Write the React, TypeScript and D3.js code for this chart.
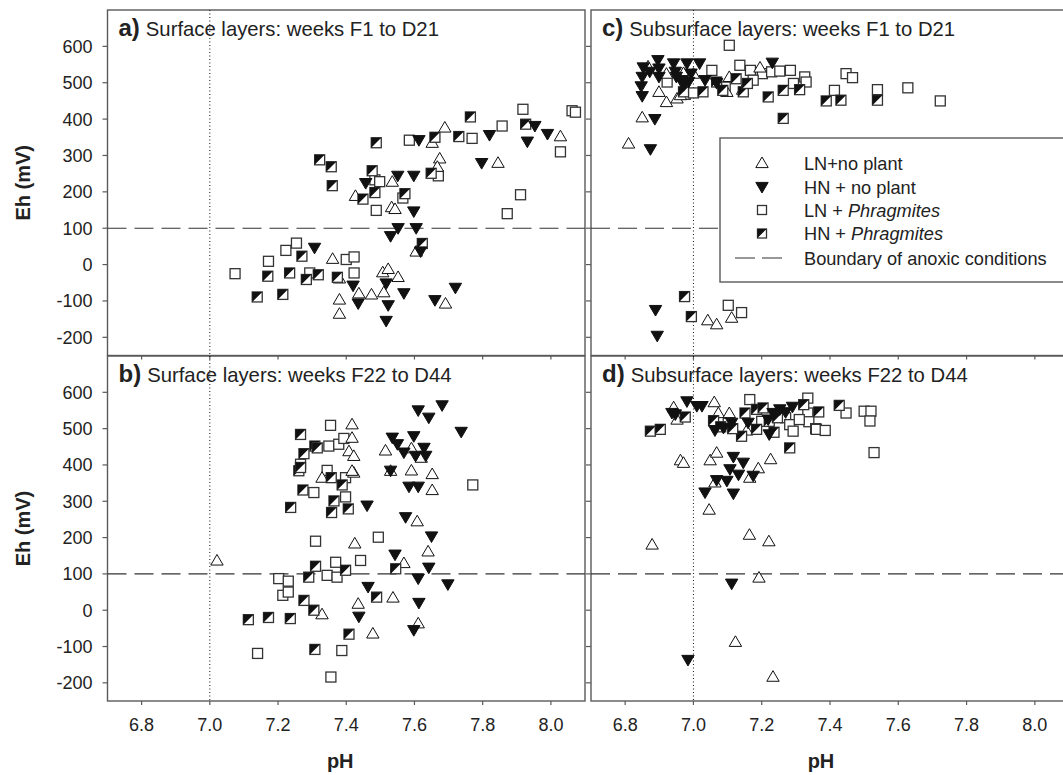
import React from "react";
import * as d3 from "d3";

// ---------- data: [pH, Eh (mV)] ----------
const xTicks = [6.8, 7.0, 7.2, 7.4, 7.6, 7.8, 8.0];
const yTicks = [-200, -100, 0, 100, 200, 300, 400, 500, 600];
const anoxicBoundary = 100;
const neutralPH = 7.0;

const aLNnoPlant = [[7.36,16],[7.38,-38],[7.38,-96],[7.38,-135],[7.437,-79],[7.474,-82],[7.507,-21],[7.523,-12],[7.552,-34],[7.51,-76],[7.691,-107],[7.605,36],[7.427,189],[7.535,228],[7.533,158],[7.543,153],[7.652,335],[7.689,377],[7.674,292],[7.667,269],[7.845,280],[8.028,353]];
const aHNnoPlant = [[7.307,46],[7.42,-58],[7.435,-107],[7.517,-52],[7.523,-112],[7.569,-79],[7.517,-155],[7.66,-98],[7.72,-64],[7.53,78],[7.552,100],[7.605,100],[7.618,36],[7.457,224],[7.551,244],[7.598,244],[7.598,146],[7.613,342],[7.82,356],[7.797,279],[7.953,381],[7.931,338],[7.99,359]];
const aLNPhrag = [[7.074,-25],[7.172,9],[7.223,39],[7.254,59],[7.293,-23],[7.40,14],[7.423,21],[7.423,-23],[7.484,233],[7.498,228],[7.67,244],[7.488,149],[7.566,183],[7.585,342],[7.769,347],[7.857,381],[7.911,192],[7.872,140],[7.918,427],[8.028,310],[8.062,423],[8.072,419]];
const aHNPhrag = [[7.17,-32],[7.27,23],[7.234,-23],[7.283,-41],[7.318,-28],[7.139,-89],[7.214,-82],[7.374,-35],[7.623,58],[7.322,288],[7.356,269],[7.359,217],[7.488,335],[7.476,258],[7.649,251],[7.449,180],[7.484,198],[7.572,195],[7.66,350],[7.764,406],[7.73,352],[7.926,386]];

const bLNnoPlant = [[7.021,137],[7.417,512],[7.417,475],[7.408,438],[7.422,425],[7.422,379],[7.329,365],[7.425,184],[7.515,440],[7.591,446],[7.53,384],[7.591,385],[7.652,375],[7.652,331],[7.608,245],[7.569,130],[7.64,162],[7.537,35],[7.435,18],[7.478,-64],[7.611,-36],[7.329,-11],[7.417,384],[7.62,420]];
const bHNnoPlant = [[7.461,288],[7.611,550],[7.681,564],[7.642,530],[7.737,491],[7.535,475],[7.55,457],[7.598,479],[7.569,434],[7.603,425],[7.628,447],[7.633,425],[7.53,384],[7.584,340],[7.611,340],[7.574,256],[7.65,203],[7.543,153],[7.642,117],[7.611,87],[7.698,71],[7.464,64],[7.613,20],[7.437,-18],[7.598,-55]];
const bLNPhrag = [[7.354,509],[7.349,452],[7.378,457],[7.393,473],[7.266,402],[7.344,385],[7.398,365],[7.305,324],[7.398,312],[7.31,190],[7.494,201],[7.369,132],[7.442,137],[7.344,96],[7.373,91],[7.202,87],[7.23,80],[7.214,41],[7.23,50],[7.14,-119],[7.387,-111],[7.355,-184],[7.771,345]];
const bHNPhrag = [[7.266,484],[7.308,452],[7.315,447],[7.276,431],[7.261,384],[7.266,393],[7.273,331],[7.237,283],[7.356,365],[7.388,345],[7.364,301],[7.357,269],[7.406,279],[7.31,121],[7.29,91],[7.398,110],[7.545,114],[7.489,36],[7.408,-66],[7.308,-108],[7.276,27],[7.305,0],[7.113,-26],[7.172,-20],[7.236,-23]];

const cLNnoPlant = [[6.867,545],[6.921,525],[6.971,527],[7.0,525],[6.899,475],[6.921,447],[6.952,457],[6.962,466],[6.85,405],[7.105,516],[7.195,542],[7.098,475],[7.144,481],[6.81,333],[7.042,-153],[7.068,-164],[7.112,-146]];
const cHNnoPlant = [[6.853,542],[6.85,516],[6.847,490],[6.85,463],[6.872,530],[6.896,562],[6.899,539],[6.899,516],[6.942,553],[6.947,530],[6.95,516],[6.981,553],[6.993,525],[6.986,502],[7.018,553],[6.966,507],[6.971,493],[7.034,507],[7.068,499],[7.231,555],[6.887,400],[6.874,317],[6.889,-125],[6.894,-196]];
const cLNPhrag = [[7.105,603],[7.054,534],[7.136,548],[7.167,534],[7.202,525],[7.229,530],[7.253,532],[7.284,534],[7.326,516],[7.33,502],[7.293,498],[7.447,525],[7.466,514],[7.413,479],[7.539,481],[6.976,468],[7.0,472],[6.923,502],[7.175,507],[7.093,488],[7.628,486],[7.723,450],[7.102,-112],[7.141,-132]];
const cHNPhrag = [[7.068,502],[7.028,475],[6.971,475],[7.086,479],[7.125,511],[7.146,475],[7.158,498],[7.219,461],[7.263,479],[7.311,481],[7.389,450],[7.432,452],[7.539,452],[7.263,402],[6.974,-88],[6.994,-143]];

const dLNnoPlant = [[6.942,559],[6.952,525],[7.061,573],[7.073,543],[7.105,543],[7.156,495],[6.962,413],[6.971,406],[7.049,413],[7.068,434],[7.226,416],[7.19,391],[7.063,352],[7.165,365],[7.046,277],[7.164,208],[7.221,190],[6.879,181],[7.192,90],[7.123,-87],[7.233,-183]];
const dHNnoPlant = [[6.937,543],[6.947,539],[6.981,575],[7.01,562],[7.025,562],[7.063,495],[7.088,502],[7.112,516],[7.219,525],[7.233,543],[7.253,553],[7.222,484],[7.117,422],[7.146,406],[7.107,388],[7.132,373],[7.175,370],[7.068,358],[7.098,356],[7.034,324],[7.117,321],[7.112,73],[6.984,-137],[7.27,545],[7.29,560],[7.16,516]];
const dLNPhrag = [[7.165,580],[7.27,530],[7.282,511],[7.292,493],[7.335,584],[7.335,543],[7.338,519],[7.358,500],[7.447,543],[7.5,548],[7.52,548],[7.517,521],[7.529,434],[7.36,498],[7.386,495],[7.078,520],[7.102,515],[7.2,520],[7.31,525]];
const dHNPhrag = [[6.874,493],[6.903,498],[6.976,532],[7.059,522],[7.151,543],[7.185,553],[7.204,557],[7.141,479],[7.185,498],[7.222,520],[7.246,530],[7.236,490],[7.323,566],[7.367,546],[7.427,564],[7.282,447],[7.08,505],[7.115,500]];

const seriesNames = ["LN+no plant", "HN + no plant", "LN + ", "HN + "];

const panels = [
  { key: "a", label: "a)", title: "Surface layers: weeks F1 to D21", col: 0, row: 0, tri: aLNnoPlant, inv: aHNnoPlant, sq: aLNPhrag, half: aHNPhrag },
  { key: "b", label: "b)", title: "Surface layers: weeks F22 to D44", col: 0, row: 1, tri: bLNnoPlant, inv: bHNnoPlant, sq: bLNPhrag, half: bHNPhrag },
  { key: "c", label: "c)", title: "Subsurface layers: weeks F1 to D21", col: 1, row: 0, tri: cLNnoPlant, inv: cHNnoPlant, sq: cLNPhrag, half: cHNPhrag },
  { key: "d", label: "d)", title: "Subsurface layers: weeks F22 to D44", col: 1, row: 1, tri: dLNnoPlant, inv: dHNnoPlant, sq: dLNPhrag, half: dHNPhrag },
];

const FONT = "'Liberation Sans', Arial, Helvetica, sans-serif";
const AXIS = "#5a5a5a";

const colRanges = [[107.5, 585], [591, 1069]];
const rowRanges = [[355.5, 10], [701, 356]];

function UpTri({ x, y }) {
  return <path d={`M${x},${y - 6}L${x + 6.2},${y + 4.6}L${x - 6.2},${y + 4.6}Z`} fill="#fff" stroke="#111" strokeWidth={1} />;
}
function DownTri({ x, y }) {
  return <path d={`M${x - 6.2},${y - 4.6}L${x + 6.2},${y - 4.6}L${x},${y + 6}Z`} fill="#111" stroke="#111" strokeWidth={1} />;
}
function OpenSq({ x, y, s = 10 }) {
  return <rect x={x - s / 2} y={y - s / 2} width={s} height={s} fill="#fff" stroke="#333" strokeWidth={1.3} />;
}
function HalfSq({ x, y, s = 10 }) {
  const h = s / 2;
  return (
    <g>
      <rect x={x - h} y={y - h} width={s} height={s} fill="#fff" stroke="#333" strokeWidth={1.3} />
      <path d={`M${x - h},${y - h}L${x + h},${y - h}L${x - h},${y + h}Z`} fill="#111" />
    </g>
  );
}

function Panel({ p }) {
  const [x0, x1] = colRanges[p.col];
  const [yb, yt] = rowRanges[p.row];
  const xs = d3.scaleLinear().domain([6.7, 8.1]).range([x0, x1]);
  const ys = d3.scaleLinear().domain([-250, 700]).range([yb, yt]);
  const clipId = `clip-${p.key}`;
  return (
    <g>
      <defs>
        <clipPath id={clipId}>
          <rect x={x0} y={yt} width={x1 - x0} height={yb - yt} />
        </clipPath>
      </defs>
      <rect x={x0} y={yt} width={x1 - x0} height={yb - yt} fill="none" stroke={AXIS} strokeWidth={1.4} />
      {yTicks.map((t) => (
        <line key={"yt" + t} x1={x0 - 5} x2={x0} y1={ys(t)} y2={ys(t)} stroke={AXIS} strokeWidth={1.2} />
      ))}
      {p.col === 0 &&
        yTicks.map((t) => (
          <text key={"yl" + t} x={x0 - 15} y={ys(t)} dy="0.36em" textAnchor="end" fontSize={18} fontFamily={FONT} fill="#222">
            {t}
          </text>
        ))}
      {xTicks.map((t) => (
        <line key={"xt" + t} x1={xs(t)} x2={xs(t)} y1={yb} y2={yb + 4} stroke={AXIS} strokeWidth={1.2} />
      ))}
      {p.row === 1 &&
        xTicks.map((t) => (
          <text key={"xl" + t} x={xs(t)} y={731} textAnchor="middle" fontSize={18} fontFamily={FONT} fill="#222">
            {t.toFixed(1)}
          </text>
        ))}
      <g clipPath={`url(#${clipId})`}>
        <line x1={xs(neutralPH)} x2={xs(neutralPH)} y1={yt} y2={yb} stroke="#111" strokeWidth={1} strokeDasharray="1,2.5" />
        <line x1={x0} x2={x1} y1={ys(anoxicBoundary)} y2={ys(anoxicBoundary)} stroke="#333" strokeWidth={1.1} strokeDasharray="19,8" />
        {p.sq.map((d, i) => <OpenSq key={"s" + i} x={xs(d[0])} y={ys(d[1])} />)}
        {p.tri.map((d, i) => <UpTri key={"t" + i} x={xs(d[0])} y={ys(d[1])} />)}
        {p.half.map((d, i) => <HalfSq key={"h" + i} x={xs(d[0])} y={ys(d[1])} />)}
        {p.inv.map((d, i) => <DownTri key={"v" + i} x={xs(d[0])} y={ys(d[1])} />)}
      </g>
      <text x={x0 + 11} y={yt + 26} fontSize={20.3} fontFamily={FONT} fill="#222">
        <tspan fontWeight="bold" fontSize={24}>{p.label}</tspan>
        <tspan dx={6}>{p.title}</tspan>
      </text>
      {p.col === 0 && (
        <text transform={`translate(23,${(yt + yb) / 2}) rotate(-90)`} textAnchor="middle" dy="0.36em" fontSize={20} fontWeight="bold" fontFamily={FONT} fill="#222">
          Eh (mV)
        </text>
      )}
      {p.row === 1 && (
        <text x={(x0 + Math.min(x1, 1063)) / 2 - 6} y={768} textAnchor="middle" fontSize={20} fontWeight="bold" fontFamily={FONT} fill="#222">
          pH
        </text>
      )}
    </g>
  );
}

function Legend() {
  const lx = 720, ly = 138, lw = 360, lh = 144;
  const sx = 762, tx = 804;
  const rows = [163, 187, 210, 233.5, 258];
  return (
    <g>
      <rect x={lx} y={ly} width={lw} height={lh} fill="#fff" stroke={AXIS} strokeWidth={1.4} />
      <UpTri x={sx} y={rows[0]} />
      <DownTri x={sx} y={rows[1]} />
      <OpenSq x={sx} y={rows[2]} s={9} />
      <HalfSq x={sx} y={rows[3]} s={9} />
      <line x1={735} x2={783} y1={rows[4]} y2={rows[4]} stroke="#333" strokeWidth={1.1} strokeDasharray="20,7" />
      {[0, 1].map((i) => (
        <text key={i} x={tx} y={rows[i]} dy="0.36em" fontSize={18.2} fontFamily={FONT} fill="#222">{seriesNames[i]}</text>
      ))}
      {[2, 3].map((i) => (
        <text key={i} x={tx} y={rows[i]} dy="0.36em" fontSize={18.2} fontFamily={FONT} fill="#222">
          {seriesNames[i]}<tspan fontStyle="italic">Phragmites</tspan>
        </text>
      ))}
      <text x={tx} y={rows[4]} dy="0.36em" fontSize={18.2} fontFamily={FONT} fill="#222">Boundary of anoxic conditions</text>
    </g>
  );
}

export default function App() {
  return (
    <svg width={1063} height={775} style={{ display: "block", position: "absolute", left: 0, top: 0, background: "#fff" }}>
      <rect x={0} y={0} width={1063} height={775} fill="#fff" />
      {panels.map((p) => <Panel key={p.key} p={p} />)}
      <Legend />
    </svg>
  );
}
